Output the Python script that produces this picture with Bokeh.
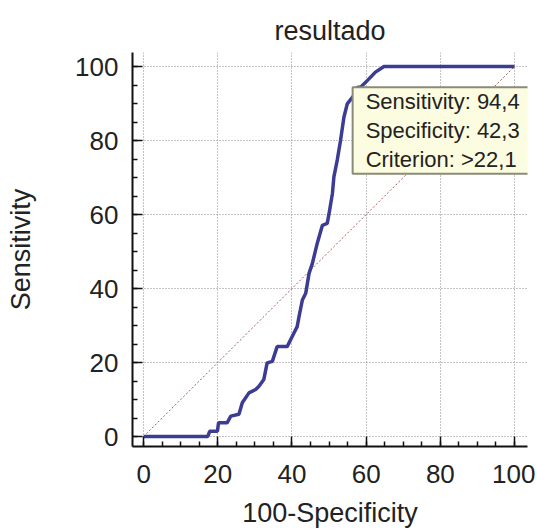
from bokeh.plotting import figure
from bokeh.models import Range1d, Label, SingleIntervalTicker
from bokeh.embed import file_html
from bokeh.resources import INLINE

# ROC curve: 100-Specificity (x) vs Sensitivity (y)
fpr = [0, 17.3, 17.8, 19.9, 20.2, 22.5, 23.5, 25.7, 26.6, 28.4, 30.2, 31.1, 32.4,
       33.3, 34.7, 36.0, 38.7, 40.5, 41.4, 41.9, 42.8, 43.7, 44.6, 45.5, 46.8,
       48.2, 49.5, 50.0, 50.9, 51.3, 52.2, 53.1, 54.0, 54.9, 56.7, 57.7, 58.5,
       60.3, 62.5, 64.8, 100]
tpr = [0, 0, 1.4, 1.4, 3.7, 3.7, 5.5, 6.0, 9.1, 11.8, 12.7, 13.6, 15.4,
       19.9, 20.3, 24.3, 24.3, 27.9, 29.7, 32.4, 36.9, 38.7, 44.1, 46.8, 52.2,
       57.1, 57.6, 60.3, 65.7, 70.2, 74.7, 80.1, 86.3, 89.9, 92.2, 94.4, 94.4,
       96.2, 98.5, 100, 100]
diag_x = [0, 100]
diag_y = [0, 100]

# Criterion point
crit_sens = 94.4
crit_spec = 42.3
crit_text = ["Sensitivity: 94,4", "Specificity: 42,3", "Criterion: >22,1"]

title_text = "resultado"
x_label = "100-Specificity"
y_label = "Sensitivity"

FONT = "Liberation Sans"
TXT = "#222222"

W, H = 535, 530
BL, BR, BT, BB = 132, 8, 52, 83

p = figure(width=W, height=H, output_backend="svg", toolbar_location=None,
           x_range=Range1d(-3, 103.5), y_range=Range1d(-2.7, 103.8),
           min_border_left=BL, min_border_right=BR, min_border_top=BT, min_border_bottom=BB,
           title=title_text)
p.outline_line_color = None
p.background_fill_color = "white"
p.border_fill_color = "white"

p.title.align = "center"
p.title.text_font = FONT
p.title.text_font_size = "27px"
p.title.text_font_style = "normal"
p.title.text_color = TXT
p.title.standoff = 14

for ax in (p.xaxis[0], p.yaxis[0]):
    ax.ticker = SingleIntervalTicker(interval=20, num_minor_ticks=4)
    ax.axis_line_width = 2
    ax.axis_line_color = "#111111"
    ax.major_tick_in = 10
    ax.major_tick_out = 0
    ax.minor_tick_in = 5
    ax.minor_tick_out = 0
    ax.major_tick_line_color = "#111111"
    ax.minor_tick_line_color = "#111111"
    ax.major_tick_line_width = 1.5
    ax.minor_tick_line_width = 1.5
    ax.major_label_text_font = FONT
    ax.major_label_text_font_size = "26px"
    ax.major_label_text_color = TXT
    ax.axis_label_text_font = FONT
    ax.axis_label_text_font_size = "27px"
    ax.axis_label_text_font_style = "normal"
    ax.axis_label_text_color = TXT

p.xaxis.major_label_standoff = 18
p.yaxis.major_label_standoff = 14
p.xaxis.axis_label = x_label
p.yaxis.axis_label = y_label
p.xaxis.axis_label_standoff = 12
p.yaxis.axis_label_standoff = 36

for g in (p.xgrid[0], p.ygrid[0]):
    g.grid_line_color = "#8a8a8a"
    g.grid_line_dash = "1 2"
    g.grid_line_width = 1

p.line(diag_x, diag_y, line_color="#a0605a", line_width=1, line_dash="2 2")
p.line(fpr, tpr, line_color="#3c3c94", line_width=3.5)

lab = Label(x=100 - crit_spec, y=crit_sens, text="\n".join(crit_text),
            anchor="top_left", x_offset=-5, text_font=FONT, text_font_size="22px",
            text_color=TXT, text_line_height=1.15,
            background_fill_color="#fcfce0", border_line_color="#8a8a7a",
            border_line_width=2, padding=dict(left=13, right=12, top=2, bottom=2))
p.add_layout(lab)

open("out.html", "w").write(file_html(p, INLINE))
